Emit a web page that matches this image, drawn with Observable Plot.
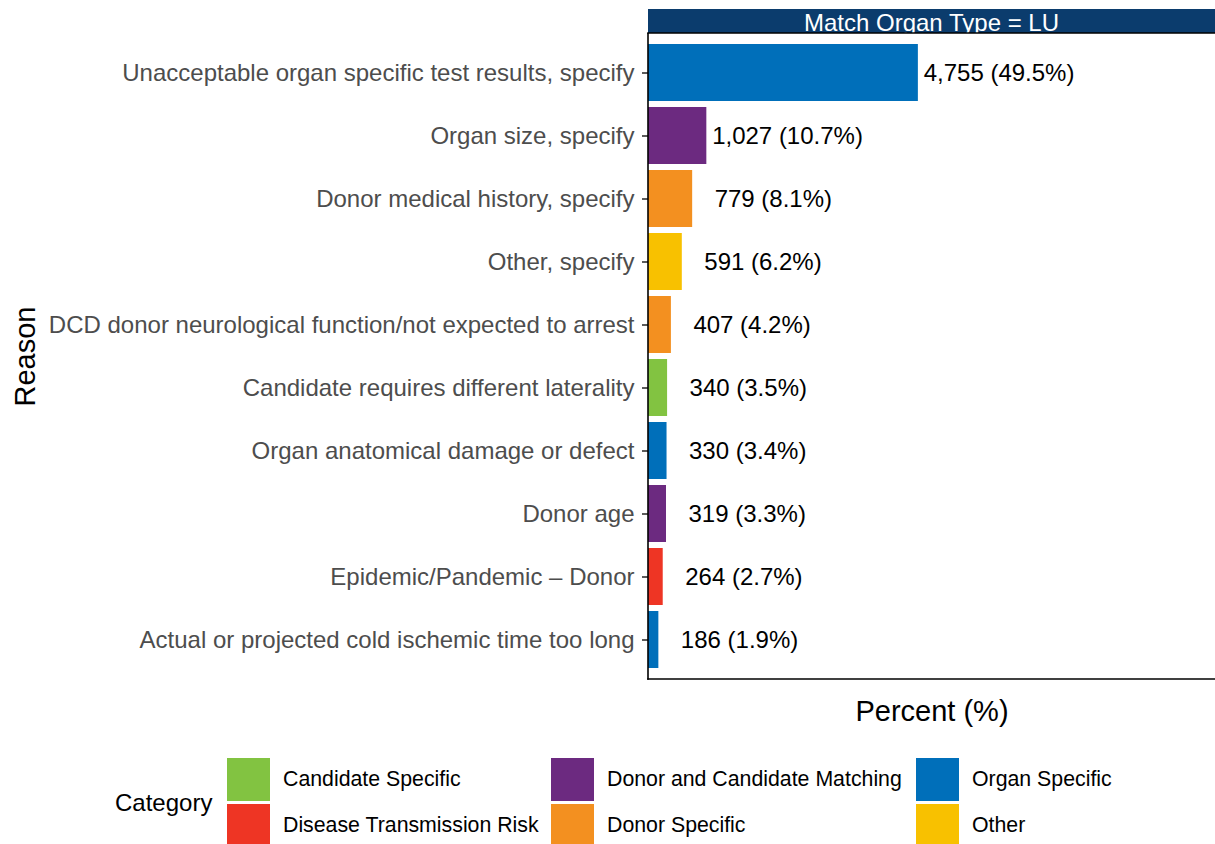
<!DOCTYPE html>
<html><head><meta charset="utf-8">
<script src="https://cdn.jsdelivr.net/npm/d3@7"></script>
<script src="https://cdn.jsdelivr.net/npm/@observablehq/plot@0.6"></script>
<style>
body{margin:0;background:#fff;font-family:"Liberation Sans",Arial,Helvetica,sans-serif;}
#legend{position:relative;width:1215px;height:99px;overflow:hidden;}
#legend div{position:absolute;white-space:nowrap;}
</style></head><body><div id="chart"></div><div id="legend"></div><script>
const reasons = [
  "Unacceptable organ specific test results, specify",
  "Organ size, specify",
  "Donor medical history, specify",
  "Other, specify",
  "DCD donor neurological function/not expected to arrest",
  "Candidate requires different laterality",
  "Organ anatomical damage or defect",
  "Donor age",
  "Epidemic/Pandemic \u2013 Donor",
  "Actual or projected cold ischemic time too long"
];
const counts = [4755, 1027, 779, 591, 407, 340, 330, 319, 264, 186];
const percents = [49.5, 10.7, 8.1, 6.2, 4.2, 3.5, 3.4, 3.3, 2.7, 1.9];
const reasonCategory = [
  "Organ Specific", "Donor and Candidate Matching", "Donor Specific", "Other",
  "Donor Specific", "Candidate Specific", "Organ Specific",
  "Donor and Candidate Matching", "Disease Transmission Risk", "Organ Specific"
];
const categories = ["Candidate Specific", "Disease Transmission Risk", "Donor and Candidate Matching", "Donor Specific", "Organ Specific", "Other"];
const categoryColors = ["#82C341", "#EE3524", "#6C2A80", "#F39020", "#006FBA", "#F8C100"];
const facetLabel = "Match Organ Type = LU";
const xLabel = "Percent (%)";
const yLabel = "Reason";
const legendTitle = "Category";

const data = reasons.map((r, i) => ({
  reason: r, count: counts[i], pct: percents[i], category: reasonCategory[i],
  label: d3.format(",")(counts[i]) + " (" + percents[i].toFixed(1) + "%)"
}));

function decor(index, scales, values, dims) {
  const g = d3.create("svg:g");
  const x0 = dims.marginLeft, x1 = dims.width - dims.marginRight;
  const yt = dims.marginTop;
  const yb = dims.height - dims.marginBottom;
  const clipId = "stripclip";
  g.append("clipPath").attr("id", clipId).append("rect")
    .attr("x", x0).attr("y", 9).attr("width", x1 - x0).attr("height", yt - 9);
  g.append("rect").attr("x", x0).attr("y", 9).attr("width", x1 - x0).attr("height", yt - 9).attr("fill", "#0B3C6D");
  g.append("text").attr("clip-path", `url(#${clipId})`)
    .attr("x", (x0 + x1) / 2).attr("y", 31).attr("text-anchor", "middle")
    .attr("fill", "#fff").attr("font-size", 24).text(facetLabel);
  g.append("line").attr("x1", x0 - 0.8).attr("x2", x1).attr("y1", yt).attr("y2", yt).attr("stroke", "#000").attr("stroke-width", 1.6);
  g.append("line").attr("x1", x0).attr("x2", x0).attr("y1", yt).attr("y2", yb + 0.8).attr("stroke", "#000").attr("stroke-width", 1.6);
  g.append("line").attr("x1", x0 - 0.8).attr("x2", x1).attr("y1", yb).attr("y2", yb).attr("stroke", "#000").attr("stroke-width", 1.6);
  return g.node();
}

const chart = Plot.plot({
  width: 1215,
  height: 745,
  marginLeft: 648,
  marginRight: 0,
  marginTop: 33,
  marginBottom: 66,
  style: {fontFamily: '"Liberation Sans", Arial, sans-serif', background: "#fff"},
  x: {domain: [0, 104], axis: null},
  y: {domain: reasons, paddingInner: 0.1, paddingOuter: 0.15, axis: null},
  color: {domain: categories, range: categoryColors},
  marks: [
    Plot.barX(data, {x: "pct", y: "reason", fill: "category"}),
    Plot.text(data, {x: d => d.pct + 14.8, y: "reason", text: "label", fontSize: 24, fill: "#000", textAnchor: "middle"}),
    Plot.axisY({tickSize: 6, tickPadding: 8, fontSize: 24, stroke: "#333", strokeWidth: 1.6, fill: "#4D4D4D", label: null}),
    Plot.text([xLabel], {text: d => d, frameAnchor: "bottom", dy: 41, fontSize: 29, fill: "#000", textAnchor: "middle"}),
    Plot.text([yLabel], {text: d => d, frameAnchor: "left", dx: -623, rotate: -90, fontSize: 29, fill: "#000", textAnchor: "middle"}),
    decor
  ]
});
document.getElementById("chart").appendChild(chart);

const legend = document.getElementById("legend");
const title = document.createElement("div");
title.textContent = legendTitle;
Object.assign(title.style, {left: "115px", top: "13px", height: "89px", lineHeight: "89px", fontSize: "24px", color: "#000"});
legend.appendChild(title);
const colX = [227, 551, 916];
categories.forEach((c, i) => {
  const col = Math.floor(i / 2), row = i % 2;
  const key = document.createElement("div");
  Object.assign(key.style, {left: colX[col] + "px", top: (13 + row * 46) + "px", width: "43px", height: "43px", background: categoryColors[i]});
  legend.appendChild(key);
  const lab = document.createElement("div");
  lab.textContent = c;
  Object.assign(lab.style, {left: (colX[col] + 56) + "px", top: (13 + row * 46) + "px", height: "43px", lineHeight: "43px", fontSize: "21.3px", color: "#000"});
  legend.appendChild(lab);
});
</script></body></html>
